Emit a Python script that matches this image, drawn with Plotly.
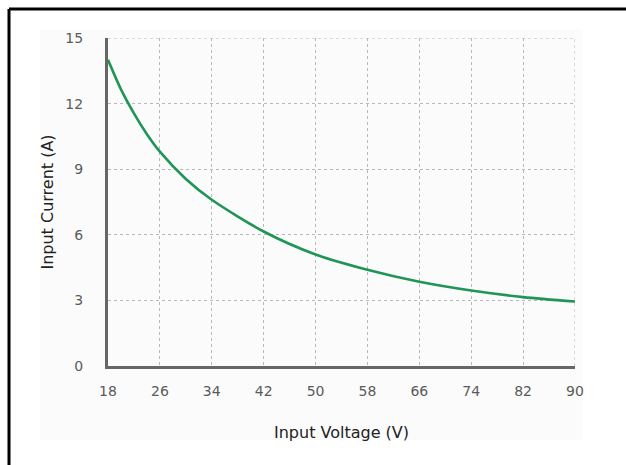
import plotly.graph_objects as go

voltage = [18, 20, 22, 24, 26, 30, 34, 42, 50, 58, 66, 74, 82, 90]
current = [14.0, 12.65, 11.55, 10.6, 9.8, 8.55, 7.6, 6.15, 5.1, 4.4, 3.85, 3.45, 3.15, 2.95]
x_ticks = [18, 26, 34, 42, 50, 58, 66, 74, 82, 90]
y_ticks = [0, 3, 6, 9, 12, 15]

W, H = 626, 465
L, R, T, B = 108, 51, 38, 99
pw, ph = W - L - R, H - T - B

def px(xp):
    return (xp - L) / pw

def py(yp):
    return (H - B - yp) / ph

fig = go.Figure()
fig.add_trace(go.Scatter(
    x=voltage, y=current, mode="lines",
    line=dict(color="#1f9556", width=2.6, shape="spline", smoothing=0.8),
    hoverinfo="skip", showlegend=False,
))

shapes = [
    dict(type="rect", xref="paper", yref="paper", x0=px(40), x1=px(582), y0=py(440), y1=py(30),
         fillcolor="#fbfbfb", line=dict(width=0), layer="below"),
    dict(type="line", xref="paper", yref="paper", x0=px(9), x1=px(626), y0=py(9), y1=py(9),
         line=dict(color="#000000", width=3)),
    dict(type="line", xref="paper", yref="paper", x0=px(9), x1=px(9), y0=py(9), y1=py(465),
         line=dict(color="#000000", width=3)),
]

fig.update_layout(
    width=W, height=H,
    margin=dict(l=L, r=R, t=T, b=B),
    paper_bgcolor="white", plot_bgcolor="white",
    font=dict(family="DejaVu Sans", size=14, color="#555555"),
    shapes=shapes,
    xaxis=dict(
        range=[18, 90], tickvals=x_ticks, ticktext=[str(v) for v in x_ticks],
        showgrid=True, gridcolor="#b8b8b8", griddash="dot", gridwidth=1,
        showline=True, linecolor="#666666", linewidth=3,
        zeroline=False, ticks="", ticklabelstandoff=10,
        tickfont=dict(size=14, color="#5a5a5a"),
        title=dict(text="Input Voltage (V)", font=dict(size=16, color="#222222"), standoff=30),
    ),
    yaxis=dict(
        range=[0, 15], tickvals=y_ticks, ticktext=[str(v) for v in y_ticks],
        showgrid=True, gridcolor="#b8b8b8", griddash="dot", gridwidth=1,
        showline=True, linecolor="#666666", linewidth=3,
        zeroline=False, ticks="", ticklabelstandoff=19,
        tickfont=dict(size=14, color="#5a5a5a"),
        title=dict(text="Input Current (A)", font=dict(size=16, color="#222222"), standoff=8),
    ),
)

fig.add_shape(type="line", xref="x", yref="y", x0=90, x1=90, y0=0, y1=15,
              line=dict(color="#b8b8b8", width=1, dash="dot"), layer="below")
fig.add_shape(type="line", xref="x", yref="y", x0=18, x1=90, y0=15, y1=15,
              line=dict(color="#b8b8b8", width=1, dash="dot"), layer="below")

fig.write_html("out.html")
